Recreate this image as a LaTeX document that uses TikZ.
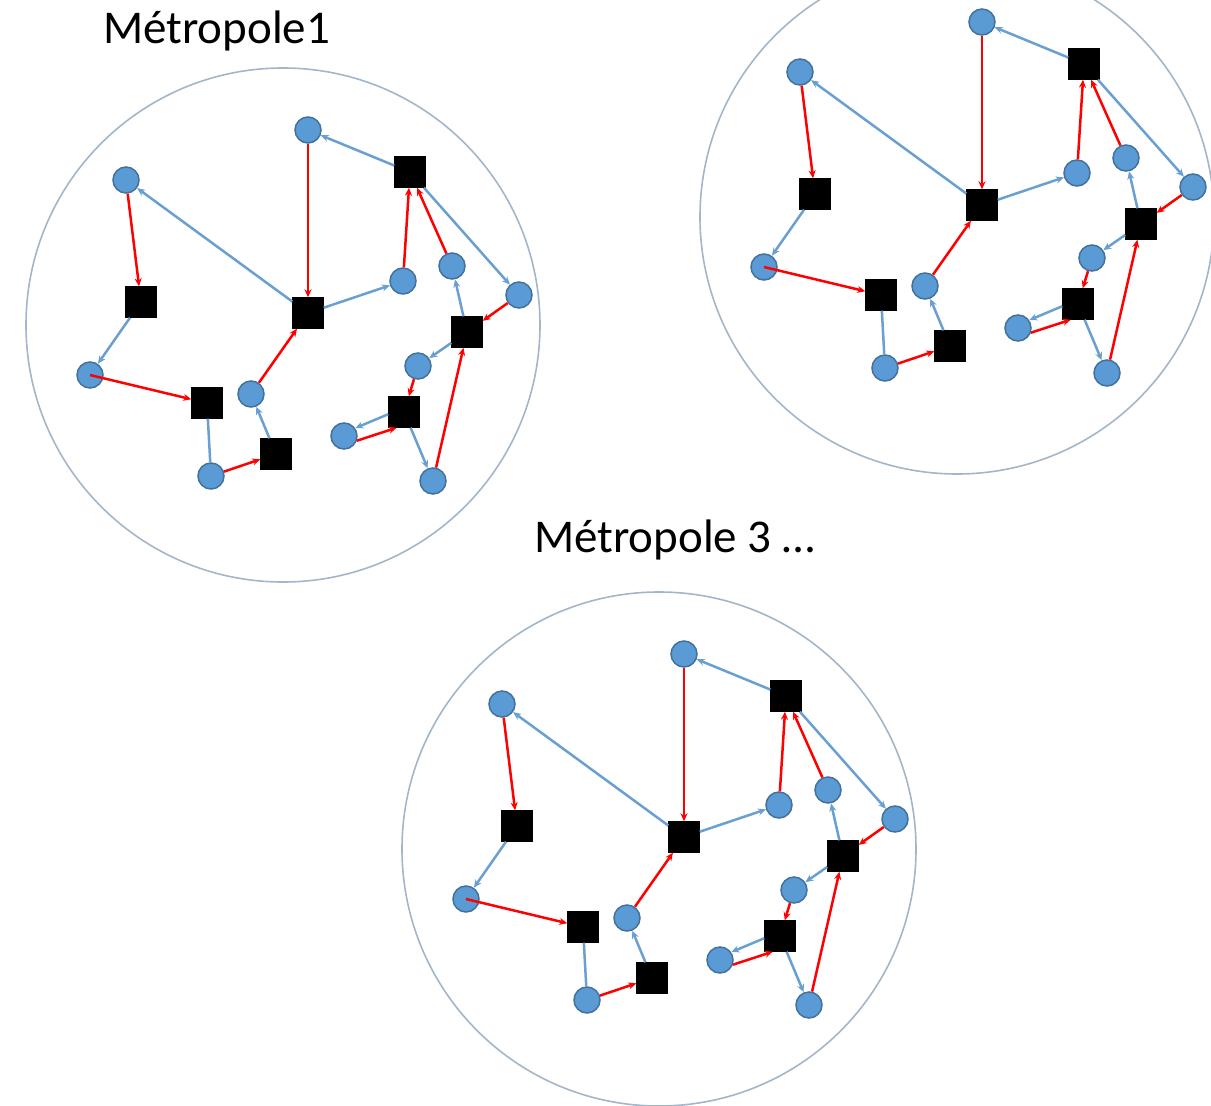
\documentclass[tikz,border=0pt]{standalone}
\usepackage{fontspec}
\setmainfont{Carlito}
\usetikzlibrary{arrows.meta}
\definecolor{nodeblue}{HTML}{5B9BD5}
\definecolor{nodeborder}{HTML}{41719C}
\definecolor{edgeblue}{HTML}{6A9FD2}
\definecolor{ringgray}{HTML}{A3B6C9}
\tikzset{
  cnode/.style={circle,fill=nodeblue,draw=nodeborder,line width=1.5pt,minimum size=26pt,inner sep=0pt},
  snode/.style={rectangle,fill=black,draw=black,minimum size=31pt,inner sep=0pt},
  ring/.style={circle,draw=ringgray,line width=1.6pt,minimum size=514pt,inner sep=0pt},
  redarr/.style={draw=red,line width=2.5pt,-{Stealth[length=8pt,width=7pt]}},
  bluearr/.style={draw=edgeblue,line width=2.5pt,-{Stealth[length=8pt,width=7pt]}},
  blueline/.style={draw=edgeblue,line width=2.5pt},
  lbl/.style={font=\fontsize{47}{56}\selectfont,inner sep=0pt,anchor=base west}
}
\newcommand\metrograph[3]{%
\begin{scope}[shift={(#2,#3)}]
  \node[ring] (#1ring) at (283,325) {};
  \node[cnode] (#1A) at (126,180) {};
  \node[cnode] (#1B) at (308,130) {};
  \node[snode] (#1S1) at (410,172) {};
  \node[snode] (#1S2) at (141,302) {};
  \node[snode] (#1S3) at (308,313) {};
  \node[cnode] (#1C) at (403,281) {};
  \node[cnode] (#1D) at (452,266) {};
  \node[cnode] (#1E) at (519,295) {};
  \node[snode] (#1S4) at (467,332) {};
  \node[cnode] (#1F) at (90,375) {};
  \node[snode] (#1S5) at (207,403) {};
  \node[cnode] (#1G) at (251,394) {};
  \node[snode] (#1S6) at (276,454) {};
  \node[cnode] (#1H) at (211,476) {};
  \node[cnode] (#1I) at (418,366) {};
  \node[snode] (#1S7) at (404,412) {};
  \node[cnode] (#1J) at (344,436) {};
  \node[cnode] (#1K) at (433,481) {};
  \draw[redarr] (#1A) -- (#1S2);
  \draw[bluearr] (#1S3) -- (#1A);
  \draw[redarr] (#1B) -- (#1S3);
  \draw[bluearr] (#1S1) -- (#1B);
  \draw[bluearr] (#1S3) -- (#1C);
  \draw[redarr] (#1C) -- (#1S1);
  \draw[redarr] (#1D) -- (#1S1);
  \draw[bluearr] (#1S1) -- (#1E);
  \draw[redarr] (#1E) -- (#1S4);
  \draw[bluearr] (#1S4) -- (#1D);
  \draw[bluearr] (#1S2) -- (#1F);
  \draw[redarr] (#1F.center) -- (#1S5);
  \draw[blueline] (#1S5) -- (#1H);
  \draw[redarr] (#1H) -- (#1S6);
  \draw[bluearr] (#1S6) -- (#1G);
  \draw[redarr] (#1G) -- (#1S3);
  \draw[bluearr] (#1S4) -- (#1I);
  \draw[redarr] (#1I) -- (#1S7);
  \draw[bluearr] (#1S7.188) -- (#1J.35);
  \draw[redarr] (#1J.-20) -- (#1S7.-115);
  \draw[bluearr] (#1S7) -- (#1K);
  \draw[redarr] (#1K) -- (#1S4);
\end{scope}}
\begin{document}
\begin{tikzpicture}[x=1pt,y=-1pt]
  \useasboundingbox (0,0) rectangle (1211,1106);
  \begin{scope}
    \clip (0,0) rectangle (1211,1106);
    \metrograph{m1}{0}{0}
    \metrograph{m2}{674}{-108}
    \metrograph{m3}{376}{524}
  \end{scope}
  \node[lbl] (t1) at (103,43) {Métropole1};
  \node[lbl] (t3) at (534,552) {Métropole 3 …};
\end{tikzpicture}
\end{document}
